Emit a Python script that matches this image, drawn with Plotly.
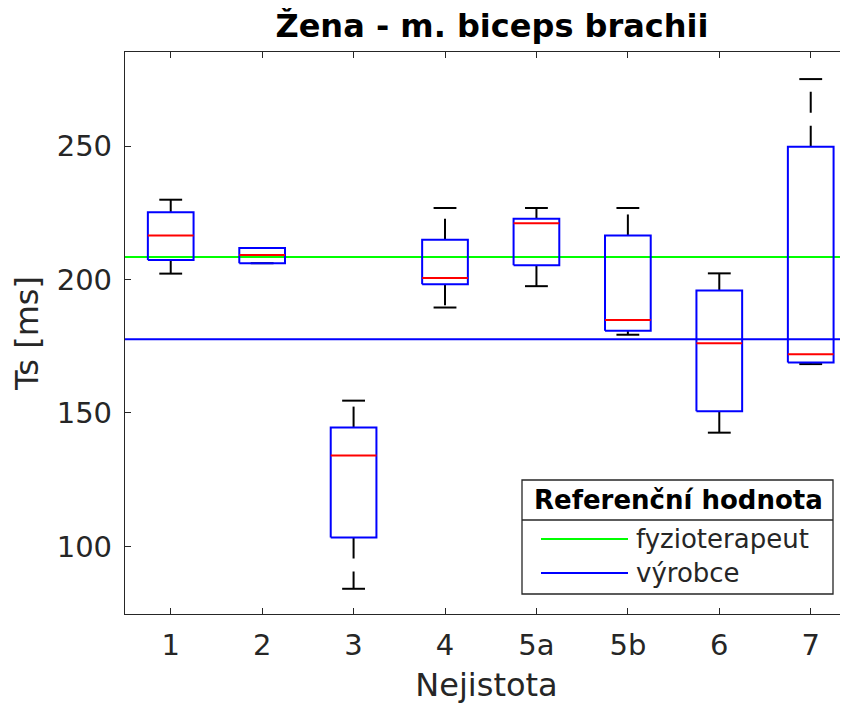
import plotly.graph_objects as go

categories = ["1", "2", "3", "4", "5a", "5b", "6", "7"]
upper_whisker = [229.9, 211.8, 154.6, 226.8, 226.8, 226.8, 202.3, 275.1]
q3 = [225.2, 211.8, 144.5, 214.9, 222.8, 216.5, 195.9, 249.7]
median = [216.5, 209.2, 134.0, 200.6, 221.1, 184.8, 176.1, 172.0]
q1 = [207.3, 206.1, 103.3, 198.2, 205.3, 180.8, 150.6, 168.9]
lower_whisker = [202.2, 206.1, 84.1, 189.5, 197.5, 179.3, 142.6, 168.3]

ref_names = ["fyzioterapeut", "výrobce"]
ref_values = [208.4, 177.6]
ref_colors = ["#00ff00", "#0000ff"]

title_text = "Žena - m. biceps brachii"
x_label = "Nejistota"
y_label = "Ts [ms]"
legend_title = "Referenční hodnota"

FONT = "DejaVu Sans"
TXT = "#262626"
OFF = 8  # page body margin
W = 848 - OFF
H = 704 - OFF
ML, MR, MT, MB = 125 - OFF, 0, 52 - OFF, 90

fig = go.Figure()
pos = list(range(1, len(categories) + 1))
half_box = 0.25
half_cap = 0.125

# reference lines across the whole axis
for name, val, col in zip(ref_names, ref_values, ref_colors):
    fig.add_trace(go.Scatter(x=[0.5, 8.5], y=[val, val], mode="lines",
                             line=dict(color=col, width=2), name=name,
                             showlegend=False, hoverinfo="skip"))

for i, p in enumerate(pos):
    # whiskers (dashed, drawn from the box outward)
    fig.add_trace(go.Scatter(x=[p, p], y=[q3[i], upper_whisker[i]], mode="lines",
                             line=dict(color="#000000", width=2, dash="21px,13px"),
                             showlegend=False, hoverinfo="skip"))
    fig.add_trace(go.Scatter(x=[p, p], y=[q1[i], lower_whisker[i]], mode="lines",
                             line=dict(color="#000000", width=2, dash="21px,13px"),
                             showlegend=False, hoverinfo="skip"))
    # caps
    fig.add_trace(go.Scatter(x=[p - half_cap, p + half_cap, None, p - half_cap, p + half_cap],
                             y=[upper_whisker[i], upper_whisker[i], None, lower_whisker[i], lower_whisker[i]],
                             mode="lines", line=dict(color="#000000", width=2),
                             showlegend=False, hoverinfo="skip"))
    # box
    fig.add_trace(go.Scatter(x=[p - half_box, p + half_box, p + half_box, p - half_box, p - half_box],
                             y=[q1[i], q1[i], q3[i], q3[i], q1[i]],
                             mode="lines", line=dict(color="#0000ff", width=2),
                             showlegend=False, hoverinfo="skip"))
    # median
    fig.add_trace(go.Scatter(x=[p - half_box, p + half_box], y=[median[i], median[i]],
                             mode="lines", line=dict(color="#ff0000", width=2),
                             showlegend=False, hoverinfo="skip"))

pw = W - ML - MR
ph = H - MT - MB


def px(x):
    return (x - OFF - ML) / pw


def py(y):
    return (H - MB - (y - OFF)) / ph


shapes = []
annotations = []
# legend box
shapes.append(dict(type="rect", xref="paper", yref="paper",
                   x0=px(522), x1=px(833), y0=py(594), y1=py(480),
                   line=dict(color=TXT, width=1.3), fillcolor="white", layer="above"))
shapes.append(dict(type="line", xref="paper", yref="paper",
                   x0=px(522), x1=px(833), y0=py(520), y1=py(520),
                   line=dict(color=TXT, width=1.3), layer="above"))
annotations.append(dict(xref="paper", yref="paper", x=px(678), y=py(500),
                        text="<b>" + legend_title + "</b>", showarrow=False,
                        xanchor="center", yanchor="middle",
                        font=dict(family=FONT, size=26, color="#000000")))
for k, (name, col) in enumerate(zip(ref_names, ref_colors)):
    yy = [539, 573][k]
    shapes.append(dict(type="line", xref="paper", yref="paper",
                       x0=px(541), x1=px(628), y0=py(yy), y1=py(yy),
                       line=dict(color=col, width=2), layer="above"))
    annotations.append(dict(xref="paper", yref="paper", x=px(634), y=py(yy),
                            text=name, showarrow=False, xanchor="left", yanchor="middle",
                            font=dict(family=FONT, size=26, color=TXT)))

fig.update_layout(
    width=W, height=H,
    margin=dict(l=ML, r=MR, t=MT, b=MB, pad=0),
    paper_bgcolor="white", plot_bgcolor="white",
    font=dict(family=FONT, color=TXT),
    title=dict(text="<b>" + title_text + "</b>", x=px(492), xref="paper", xanchor="center",
               y=1 - 17.5 / H, yref="container", yanchor="middle",
               font=dict(family=FONT, size=32, color="#000000")),
    showlegend=False,
    shapes=shapes,
    annotations=annotations,
)
fig.update_xaxes(
    range=[0.5, 0.5 + (848 - 125) / 91.43], tickmode="array", tickvals=pos, ticktext=categories,
    showline=True, linecolor=TXT, linewidth=1.3, mirror="ticks",
    ticks="inside", ticklen=6, tickcolor=TXT, tickwidth=1.3,
    showgrid=False, zeroline=False, ticklabelstandoff=5,
    tickfont=dict(family=FONT, size=29, color=TXT),
    title=dict(text=x_label, font=dict(family=FONT, size=32, color=TXT), standoff=14),
)
fig.update_yaxes(
    range=[74.65, 285.25], tickvals=[100, 150, 200, 250],
    showline=True, linecolor=TXT, linewidth=1.3, mirror=False,
    ticks="inside", ticklen=6, tickcolor=TXT, tickwidth=1.3,
    showgrid=False, zeroline=False, ticklabelstandoff=6,
    tickfont=dict(family=FONT, size=29, color=TXT),
    title=dict(text=y_label, font=dict(family=FONT, size=32, color=TXT), standoff=8),
)

fig.write_html("out.html")
